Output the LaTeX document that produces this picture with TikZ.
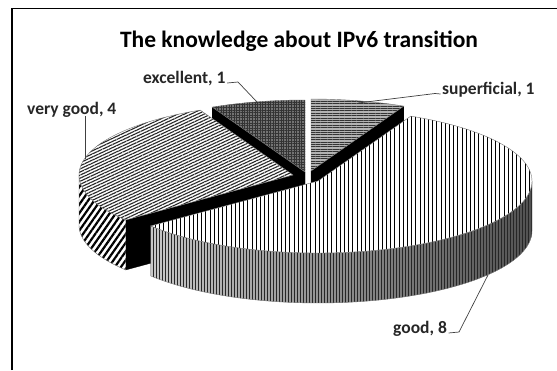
\documentclass[tikz,border=0pt]{standalone}
\usepackage{fontspec}
\setmainfont{Carlito}
\usetikzlibrary{patterns.meta}
\begin{document}
\begin{tikzpicture}[x=1pt,y=-1pt,
  lbl/.style={font=\bfseries\fontsize{17.5}{20}\selectfont, inner sep=0pt, text=black!85},
  leader/.style={draw=black!75, line width=0.7pt},
  cutface/.style={fill=black, draw=black, line width=0.3pt, line join=round},
  rimline/.style={draw=black!55, line width=0.4pt},
]
\def\A{214}\def\B{72}\def\D{50}
\useasboundingbox (0,0) rectangle (557,370);
% frame
\draw[line width=1.6pt] (12,370) -- (12,8.5) -- (557,8.5);
% title
\node[font=\bfseries\fontsize{23.5}{26}\selectfont, anchor=base, inner sep=0pt] (title) at (299,47) {The knowledge about IPv6 transition};

% ---------- superficial (0 - 25.7) ----------
\def\ccx{311}\def\ccy{171}
\path[cutface] (\ccx,\ccy) -- ({\ccx+\A*sin(25.7)},{\ccy-\B*cos(25.7)}) -- ({\ccx+\A*sin(25.7)},{\ccy-\B*cos(25.7)+\D}) -- (\ccx,\ccy+\D) -- cycle;
\path[fill=black!30, postaction={pattern={Lines[angle=0,distance=2.4pt,line width=0.9pt]}, pattern color=black!80}]
  (\ccx,\ccy) -- plot[domain=0:25.7,samples=20] ({\ccx+\A*sin(\x)},{\ccy-\B*cos(\x)}) -- cycle;
\draw[rimline] (\ccx,\ccy) -- plot[domain=0:25.7,samples=20] ({\ccx+\A*sin(\x)},{\ccy-\B*cos(\x)}) -- cycle;

% ---------- excellent (334.3 - 360) ----------
\def\ccx{305}\def\ccy{172}
\path[cutface] (\ccx,\ccy) -- ({\ccx+\A*sin(334.3)},{\ccy-\B*cos(334.3)}) -- ({\ccx+\A*sin(334.3)},{\ccy-\B*cos(334.3)+\D}) -- (\ccx,\ccy+\D) -- cycle;
\path[fill=black!55, postaction={pattern={Hatch[angle=0,distance=2.6pt,line width=0.6pt]}, pattern color=black!80}]
  (\ccx,\ccy) -- plot[domain=334.3:360,samples=20] ({\ccx+\A*sin(\x)},{\ccy-\B*cos(\x)}) -- cycle;
\draw[rimline] (\ccx,\ccy) -- plot[domain=334.3:360,samples=20] ({\ccx+\A*sin(\x)},{\ccy-\B*cos(\x)}) -- cycle;

% ---------- very good (231.4 - 334.3) ----------
\def\ccx{293}\def\ccy{175}
\path[cutface] (\ccx,\ccy) -- ({\ccx+\A*sin(231.4)},{\ccy-\B*cos(231.4)}) -- ({\ccx+\A*sin(231.4)},{\ccy-\B*cos(231.4)+\D}) -- (\ccx,\ccy+\D) -- cycle;
\path[fill=white, postaction={pattern={Lines[angle=55,distance=5pt,line width=2.2pt]}, pattern color=black}]
  plot[domain=231.4:270,samples=30] ({\ccx+\A*sin(\x)},{\ccy-\B*cos(\x)})
  -- plot[domain=270:231.4,samples=30] ({\ccx+\A*sin(\x)},{\ccy-\B*cos(\x)+\D}) -- cycle;
\draw[rimline] plot[domain=231.4:270,samples=30] ({\ccx+\A*sin(\x)},{\ccy-\B*cos(\x)})
  -- plot[domain=270:231.4,samples=30] ({\ccx+\A*sin(\x)},{\ccy-\B*cos(\x)+\D}) -- cycle;
\path[fill=white, postaction={pattern={Lines[angle=25,distance=2.8pt,line width=1.1pt]}, pattern color=black!85}]
  (\ccx,\ccy) -- plot[domain=231.4:334.3,samples=60] ({\ccx+\A*sin(\x)},{\ccy-\B*cos(\x)}) -- cycle;
\draw[rimline] (\ccx,\ccy) -- plot[domain=231.4:334.3,samples=60] ({\ccx+\A*sin(\x)},{\ccy-\B*cos(\x)}) -- cycle;

% ---------- good (25.7 - 231.4) ----------
\def\ccx{318}\def\ccy{181}
\path[left color=black!22, right color=black!68, postaction={pattern={Lines[angle=90,distance=3pt,line width=0.7pt]}, pattern color=black!85}]
  plot[domain=90:231.4,samples=60] ({\ccx+\A*sin(\x)},{\ccy-\B*cos(\x)})
  -- plot[domain=231.4:90,samples=60] ({\ccx+\A*sin(\x)},{\ccy-\B*cos(\x)+\D}) -- cycle;
\draw[rimline] plot[domain=90:231.4,samples=60] ({\ccx+\A*sin(\x)},{\ccy-\B*cos(\x)})
  -- plot[domain=231.4:90,samples=60] ({\ccx+\A*sin(\x)},{\ccy-\B*cos(\x)+\D}) -- cycle;
\path[fill=white, postaction={pattern={Lines[angle=90,distance=4.2pt,line width=0.75pt]}, pattern color=black}]
  (\ccx,\ccy) -- plot[domain=25.7:231.4,samples=90] ({\ccx+\A*sin(\x)},{\ccy-\B*cos(\x)}) -- cycle;
\draw[rimline] (\ccx,\ccy) -- plot[domain=25.7:231.4,samples=90] ({\ccx+\A*sin(\x)},{\ccy-\B*cos(\x)}) -- cycle;

% ---------- labels and leaders ----------
\node[lbl, anchor=base west] (exclbl) at (143,83) {excellent, 1};
\node[lbl, anchor=base west] (vglbl) at (27,114) {very good, 4};
\node[lbl, anchor=base west] (suplbl) at (442,94) {superficial, 1};
\node[lbl, anchor=base west] (goodlbl) at (393,333) {good, 8};

\coordinate (excK) at (238,82);
\coordinate (excE) at (257,102);
\coordinate (vgE) at (85,159);
\coordinate (supK) at (435,93.5);
\coordinate (supE) at (358,103);
\coordinate (goodK) at (459,332);
\coordinate (goodE) at (488,275);

\draw[leader] ([xshift=1.5pt]exclbl.base east) -- (excK) -- (excE);
\draw[leader] ([yshift=1pt]vglbl.south -| vgE) -- (vgE);
\draw[leader] ([xshift=-1.5pt]suplbl.base west) -- (supK) -- (supE);
\draw[leader] ([xshift=1.5pt]goodlbl.base east) -- (goodK) -- (goodE);
\end{tikzpicture}
\end{document}
